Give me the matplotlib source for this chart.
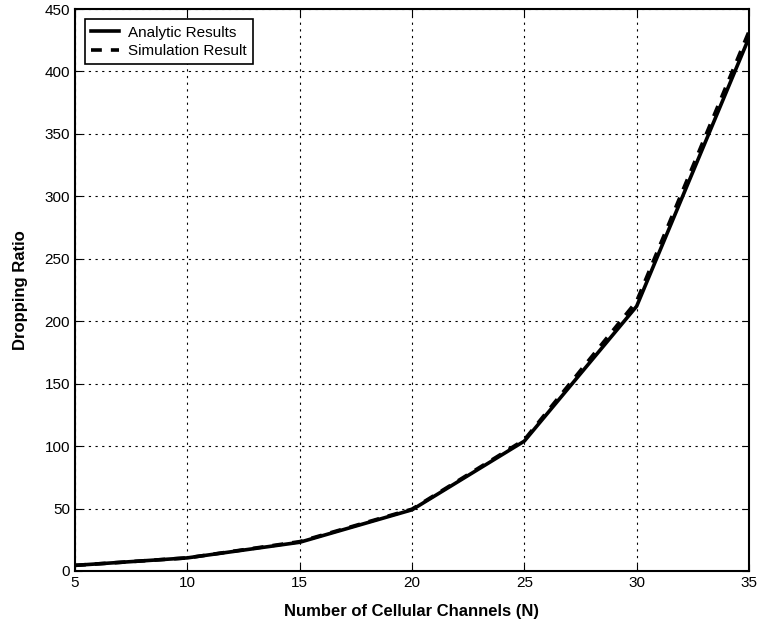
import matplotlib
matplotlib.use('Agg')
import matplotlib.pyplot as plt

plt.rcParams['font.family'] = ['Liberation Sans', 'DejaVu Sans']

# 数据
channels = [5, 10, 15, 20, 25, 30, 35]
analytic = [4.5, 10.5, 23, 49, 104, 212, 427]
simulation = [4.5, 10.5, 23.5, 49.5, 105, 216, 432]

fig = plt.figure(figsize=(7.6, 6.35), dpi=100)
ax = fig.add_axes([0.0987, 0.1008, 0.8868, 0.885])

ax.plot(channels, analytic, color='k', linestyle='-', linewidth=2.6, label='Analytic Results')
ax.plot(channels, simulation, color='k', linestyle='--', linewidth=2.6, dashes=(3, 2.5), label='Simulation Result')

ax.set_xlim(5, 35)
ax.set_ylim(0, 450)
ax.set_xticks(range(5, 36, 5))
ax.set_yticks(range(0, 451, 50))
ax.tick_params(direction='in', labelsize=11, length=5, top=True, right=True)
ax.grid(True, color='k', linestyle=(0, (2, 4)), linewidth=0.8)
for s in ax.spines.values():
    s.set_linewidth(1.5)

ax.set_xlabel('Number of Cellular Channels (N)', fontsize=12, fontweight='bold', labelpad=10)
ax.set_ylabel('Dropping Ratio', fontsize=12, fontweight='bold', labelpad=12)

leg = ax.legend(loc='upper left', fontsize=11, fancybox=False, edgecolor='k',
                framealpha=1, borderpad=0.4, handlelength=1.8, handletextpad=0.6,
                labelspacing=0.3, bbox_to_anchor=(0.004, 0.995))
leg.get_frame().set_linewidth(1.2)

fig.savefig('out.png', dpi=100)
